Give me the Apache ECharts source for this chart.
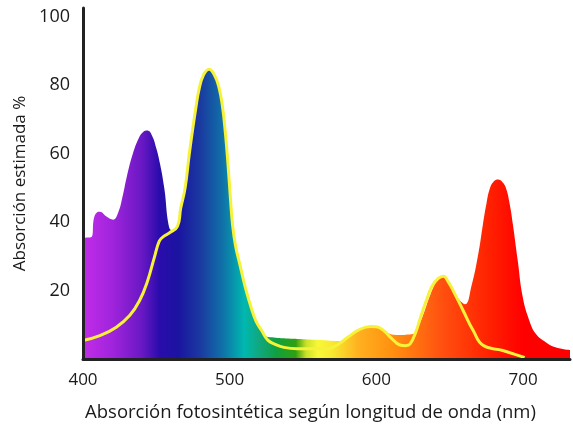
<!DOCTYPE html>
<html>
<head>
<meta charset="utf-8">
<script src="https://cdn.jsdelivr.net/npm/echarts@6/dist/echarts.min.js"></script>
<style>
	html, body { margin: 0; padding: 0; background: #fff; }
	#chart { width: 573px; height: 427px; }
</style>
</head>
<body>
<div id="chart"></div>
<script>
// absorción total (envolvente coloreada)
var fillNm = [400, 405.8, 407.4, 409.5, 411.5, 416, 420.5, 424, 427, 430, 434, 438, 441, 444, 447, 450, 452.5, 455.4, 458.8,
	461.5, 464.4, 466.6, 469.6, 472.5, 474.5, 477, 479, 482, 486, 489.5, 492.6, 495, 497, 499, 500.5, 502, 504, 507, 510.6,
	515, 518, 521.8, 524, 530, 540, 550, 560, 570, 576, 581, 588, 596, 600, 605, 610, 615, 620, 625, 628, 632, 637, 642,
	645.7, 649, 652.4, 656, 660.4, 664.9, 669.4, 672.7, 675, 677.3, 680, 683, 686, 688.5, 691, 693, 696.4, 699.8, 704.3,
	708.8, 715.5, 722, 732];
var fillVal = [35.4, 35.6, 41, 42.8, 43, 41.6, 40.7, 42.8, 47.5, 53.5, 60, 64.5, 66.3, 66.7, 65.3, 61.5, 57, 49.9, 38.3,
	37.5, 38.7, 44, 49.9, 60, 66.3, 73.5, 78.5, 82.8, 84.6, 83, 79.5, 74, 66.3, 56, 47, 39, 33, 27.5, 21,
	14.5, 11, 8.3, 6.8, 6.3, 6, 5.8, 5.6, 5.3, 5.2, 6.5, 8.5, 9.5, 9.4, 8.3, 7.2, 7, 7.1, 7.3, 9, 13, 19, 23.2,
	24.2, 22.5, 19.9, 17.5, 16, 21.5, 30.5, 39.5, 45.3, 49.7, 51.8, 52.4, 51.6, 49.7, 45, 39.5, 28.6, 18, 11.2,
	7.3, 4.9, 3.4, 2.6];

// carotenoides (línea amarilla)
var caroNm = [400, 411.5, 422.7, 431.8, 438.5, 444, 448.6, 452, 455, 458.8, 464.4, 466.6, 469.6,
	472.5, 474.5, 477, 479, 482, 486, 489.5, 492.6, 495, 497, 499, 500.5, 502, 504, 507, 510.6, 515, 518, 521.8, 526, 531,
	537, 546, 556, 567, 572, 576, 581, 588, 596, 600, 605, 610, 616, 620, 623, 627, 630, 634, 638, 642, 645.7, 649,
	652.4, 659.2, 666, 672.7, 686.2, 699.8, 701];
var caroVal = [5.4, 6.8, 9.3, 12.7, 17, 22.8, 29.6, 34.4, 35.8, 36.8, 38.7, 44, 49.9,
	60, 66.3, 73.5, 78.5, 82.8, 84.6, 83, 79.5, 74, 66.3, 56, 47, 39, 33, 27.5, 21, 14.5, 11, 8.3, 5.5, 4.3,
	3.4, 3, 3, 3, 3.8, 4.9, 6.5, 8.5, 9.5, 9.4, 8.3, 6.2, 4.1, 3.9, 4.4, 8, 12, 17, 21.3, 23.5, 24.2, 22.5,
	19.9, 14.1, 8.3, 4, 2.5, 0.6, 0.4];

var xTicks = [400, 500, 600, 700];
var yTicks = [20, 40, 60, 80, 100];

// colores del espectro (nm, color)
var specNm = [400, 420, 440, 452, 465, 480, 495, 510, 520, 532, 545, 552, 560, 570, 588, 611, 645, 678, 700, 732];
var specColor = ['#c22ce8', '#a024dc', '#6a18c4', '#2a0cac', '#1a14a0', '#1a3aa0', '#1070a8', '#00b8b0', '#10a880',
	'#10a040', '#30a010', '#c8e028', '#f8f838', '#f8e830', '#ffb020', '#ff9010', '#ff5010', '#ff2000', '#ff0000', '#ff0000'];

var xMin = 400, xMax = 732;
var font = '"Open Sans", sans-serif';

var zip = function(a, b) { return a.map(function(v, i) { return [v, b[i]]; }); };

var chart = echarts.init(document.getElementById('chart'), null, { renderer: 'canvas' });
var option = {
	animation: false,
	grid: { left: 83, right: 0, top: 8, bottom: 65 },
	xAxis: {
		type: 'value',
		min: xMin,
		max: xMax,
		interval: 100,
		z: 10,
		name: 'Absorción fotosintética según longitud de onda (nm)',
		nameLocation: 'middle',
		nameGap: 44,
		nameTextStyle: { color: '#1a1a1a', fontSize: 18.5, fontFamily: font, padding: [0, 32, 0, 0] },
		axisLine: { lineStyle: { color: '#222', width: 3 } },
		axisTick: { show: false },
		splitLine: { show: false },
		axisLabel: {
			margin: 13,
			color: '#1a1a1a',
			fontSize: 17,
			fontFamily: font,
			formatter: function(v) { return xTicks.indexOf(v) >= 0 ? String(v) : ''; }
		}
	},
	yAxis: {
		type: 'value',
		min: 0,
		max: 102.5,
		interval: 20,
		z: 10,
		name: 'Absorción estimada %',
		nameLocation: 'middle',
		nameGap: 51,
		nameTextStyle: { color: '#1a1a1a', fontSize: 17, fontFamily: font },
		axisLine: { show: true, lineStyle: { color: '#222', width: 3 } },
		axisTick: { show: false },
		splitLine: { show: false },
		axisLabel: {
			margin: 13,
			color: '#1a1a1a',
			fontSize: 18,
			fontFamily: font,
			formatter: function(v) { return yTicks.indexOf(v) >= 0 ? String(v) : ''; }
		}
	},
	series: [
		{
			type: 'line',
			data: zip(fillNm, fillVal),
			smooth: 0.45,
			showSymbol: false,
			lineStyle: { width: 0 },
			areaStyle: {
				opacity: 1,
				color: {
					type: 'linear', x: 0, y: 0, x2: 1, y2: 0,
					colorStops: specNm.map(function(n, i) {
						return { offset: (n - xMin) / (xMax - xMin), color: specColor[i] };
					})
				}
			},
			z: 2
		},
		{
			type: 'line',
			data: zip(caroNm, caroVal),
			smooth: 0.45,
			showSymbol: false,
			lineStyle: { color: '#f6f23a', width: 3 },
			z: 3
		}
	]
};
chart.setOption(option);
</script>
</body>
</html>
